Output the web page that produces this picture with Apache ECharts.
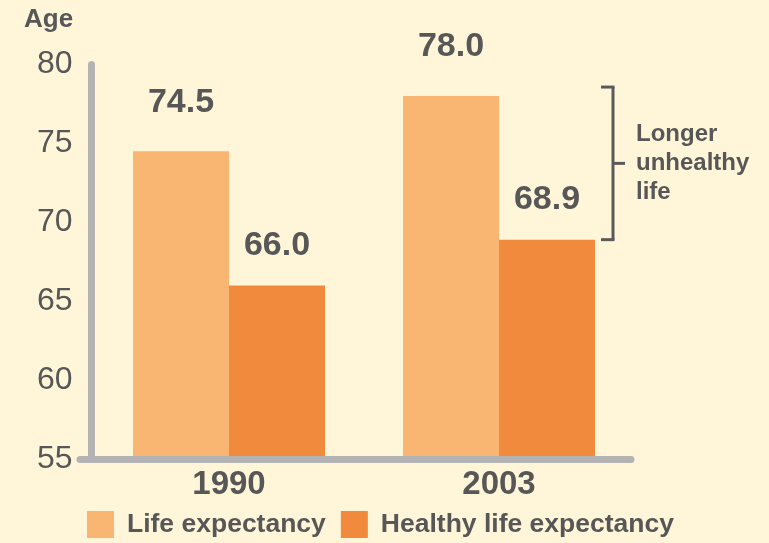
<!DOCTYPE html>
<html lang="en">
<head>
  <meta charset="UTF-8">
  <title>Life expectancy vs healthy life expectancy</title>
  <script src="https://cdn.jsdelivr.net/npm/echarts@6/dist/echarts.min.js"></script>
  <style>
    html, body {
      margin: 0;
      padding: 0;
      background: #fff6da;
    }
    #chart {
      width: 769px;
      height: 543px;
    }
  </style>
</head>
<body>
  <div id="chart"></div>

  <script>
    const years = ['1990', '2003'];
    const lifeExpectancy = [74.5, 78.0];
    const healthyLifeExpectancy = [66.0, 68.9];
    const yTicks = [55, 60, 65, 70, 75, 80];
    const seriesNames = ['Life expectancy', 'Healthy life expectancy'];
    const bracketText = 'Longer\nunhealthy\nlife';

    const FONT = '"Liberation Sans", Arial, sans-serif';
    const TEXT = '#575757';
    const AXIS = '#b3b3b3';

    const chart = echarts.init(document.getElementById('chart'));

    // bracket next to the 2003 bars, from life expectancy down to healthy life expectancy
    function renderBracket(params, api) {
      const top = api.coord([api.value(0), api.value(1)]);
      const bot = api.coord([api.value(0), api.value(2)]);
      const x = top[0] + 114;
      const y1 = top[1] - 9;
      const y2 = bot[1];
      const mid = (y1 + y2) / 2;
      const lineStyle = { stroke: '#5a5a5a', lineWidth: 3 };
      return {
        type: 'group',
        children: [
          { type: 'line', shape: { x1: x, y1: y1, x2: x, y2: y2 }, style: lineStyle },
          { type: 'line', shape: { x1: x - 12, y1: y1, x2: x + 1.5, y2: y1 }, style: lineStyle },
          { type: 'line', shape: { x1: x - 12, y1: y2, x2: x + 1.5, y2: y2 }, style: lineStyle },
          { type: 'line', shape: { x1: x, y1: mid, x2: x + 12, y2: mid }, style: lineStyle },
          {
            type: 'text',
            style: {
              text: bracketText,
              x: x + 23,
              y: mid,
              align: 'left',
              verticalAlign: 'middle',
              fontFamily: FONT,
              fontWeight: 'bold',
              fontSize: 24,
              lineHeight: 29,
              fill: TEXT
            }
          }
        ]
      };
    }

    const option = {
      backgroundColor: '#fff6da',
      animation: false,
      title: {
        text: 'Age',
        left: 24,
        top: 7,
        padding: 0,
        textStyle: { fontFamily: FONT, fontWeight: 'bold', fontSize: 26, color: TEXT }
      },
      legend: {
        data: seriesNames,
        left: 87,
        top: 511,
        padding: 0,
        itemWidth: 27,
        itemHeight: 27,
        itemGap: 15,
        icon: 'rect',
        textStyle: {
          fontFamily: FONT,
          fontWeight: 'bold',
          fontSize: 26.5,
          color: TEXT,
          padding: [0, 0, 0, 8]
        }
      },
      grid: [
        { left: 94, right: 135, top: 64.5, bottom: 84 },
        { left: 80, right: 138, top: 64.5, bottom: 84 }
      ],
      xAxis: [
        {
          type: 'category',
          gridIndex: 0,
          data: years,
          axisLine: { show: false },
          axisTick: { show: false },
          axisLabel: {
            margin: 9,
            fontFamily: FONT,
            fontWeight: 'bold',
            fontSize: 33,
            color: TEXT
          }
        },
        {
          type: 'category',
          gridIndex: 1,
          data: years,
          z: 5,
          axisLine: { show: true, lineStyle: { color: AXIS, width: 7 } },
          axisTick: { show: false },
          axisLabel: { show: false }
        }
      ],
      yAxis: [
        {
          type: 'value',
          gridIndex: 0,
          min: yTicks[0],
          max: yTicks[yTicks.length - 1],
          interval: 5,
          offset: 2.5,
          splitLine: { show: false },
          axisTick: { show: false },
          axisLine: { show: true, lineStyle: { color: AXIS, width: 7 } },
          axisLabel: {
            margin: 19,
            fontFamily: FONT,
            fontSize: 32,
            color: TEXT
          }
        },
        {
          type: 'value',
          gridIndex: 1,
          min: yTicks[0],
          max: yTicks[yTicks.length - 1],
          show: false
        }
      ],
      series: [
        {
          name: seriesNames[0],
          type: 'bar',
          data: lifeExpectancy,
          barWidth: 96,
          barGap: '0%',
          itemStyle: { color: '#f9b572' },
          label: {
            show: true,
            position: 'top',
            distance: 32,
            formatter: p => p.value.toFixed(1),
            fontFamily: FONT,
            fontWeight: 'bold',
            fontSize: 34,
            color: TEXT
          }
        },
        {
          name: seriesNames[1],
          type: 'bar',
          data: healthyLifeExpectancy,
          barWidth: 96,
          barGap: '0%',
          itemStyle: { color: '#f28a3d' },
          label: {
            show: true,
            position: 'top',
            distance: 23,
            formatter: p => p.value.toFixed(1),
            fontFamily: FONT,
            fontWeight: 'bold',
            fontSize: 34,
            color: TEXT
          }
        },
        {
          type: 'custom',
          renderItem: renderBracket,
          data: [[1, lifeExpectancy[1], healthyLifeExpectancy[1]]],
          silent: true,
          z: 4
        }
      ]
    };

    chart.setOption(option);
  </script>
</body>
</html>
